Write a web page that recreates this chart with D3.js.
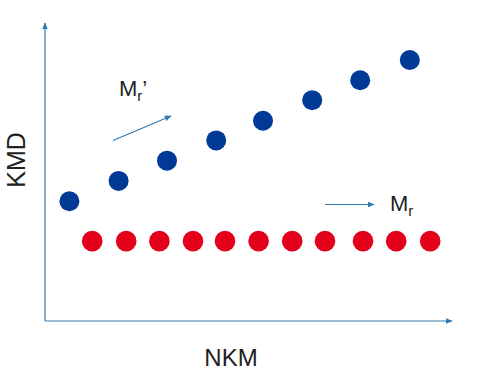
<!DOCTYPE html>
<html><head><meta charset="utf-8">
<script src="https://cdn.jsdelivr.net/npm/d3@7"></script>
<style>html,body{margin:0;padding:0;background:#fff;}svg{display:block;}</style>
</head><body>
<script>
// Data (arbitrary units)
const blueX = [0.61, 1.84, 3.05, 4.28, 5.45, 6.68, 7.88, 9.12];
const blueY = [4.02, 4.70, 5.38, 6.06, 6.72, 7.41, 8.08, 8.76];
const redX = [1.18, 2.03, 2.86, 3.70, 4.50, 5.34, 6.18, 7.00, 7.95, 8.78, 9.63];
const redY = [2.68, 2.68, 2.68, 2.68, 2.68, 2.68, 2.68, 2.68, 2.68, 2.68, 2.68];
const xLabel = "NKM";
const yLabel = "KMD";

const W = 480, H = 372;
const svg = d3.select("body").append("svg").attr("width", W).attr("height", H);
const x = d3.scaleLinear().domain([0, 10]).range([45, 445]);
const y = d3.scaleLinear().domain([0, 10]).range([321, 23]);
const axisColor = "#2f79b0";

const defs = svg.append("defs");
function marker(id, size) {
  defs.append("marker").attr("id", id).attr("viewBox", "0 0 10 10")
    .attr("refX", 9).attr("refY", 5).attr("markerWidth", size).attr("markerHeight", size)
    .attr("markerUnits", "userSpaceOnUse").attr("orient", "auto")
    .append("path").attr("d", "M0,1 L10,5 L0,9 Z").attr("fill", axisColor);
}
marker("ah", 7);

// axes
svg.append("line").attr("x1", x(0)).attr("y1", y(0)).attr("x2", x(0)).attr("y2", 23)
  .attr("stroke", axisColor).attr("stroke-width", 1.2).attr("marker-end", "url(#ah)");
svg.append("line").attr("x1", x(0)).attr("y1", y(0)).attr("x2", 452).attr("y2", y(0))
  .attr("stroke", axisColor).attr("stroke-width", 1.2).attr("marker-end", "url(#ah)");

// dots
svg.selectAll("circle.blue").data(blueX).join("circle").attr("class", "blue")
  .attr("cx", d => x(d)).attr("cy", (d, i) => y(blueY[i])).attr("r", 10).attr("fill", "#003a96");
svg.selectAll("circle.red").data(redX).join("circle").attr("class", "red")
  .attr("cx", d => x(d)).attr("cy", (d, i) => y(redY[i])).attr("r", 10.3).attr("fill", "#e3001b");

// annotation arrows
svg.append("line").attr("x1", 113).attr("y1", 140.5).attr("x2", 171).attr("y2", 116)
  .attr("stroke", axisColor).attr("stroke-width", 1.2).attr("marker-end", "url(#ah)");
svg.append("line").attr("x1", 325).attr("y1", 204.5).attr("x2", 374).attr("y2", 204.5)
  .attr("stroke", axisColor).attr("stroke-width", 1.2).attr("marker-end", "url(#ah)");

const font = "'Liberation Sans', Arial, sans-serif";
const t1 = svg.append("text").attr("x", 119).attr("y", 96).attr("font-family", font)
  .attr("font-size", 22).attr("fill", "#222");
t1.append("tspan").text("M");
t1.append("tspan").attr("font-size", 15).attr("dy", 5).text("r");
t1.append("tspan").attr("dy", -5).text("\u2019");

const t2 = svg.append("text").attr("x", 390).attr("y", 211).attr("font-family", font)
  .attr("font-size", 22).attr("fill", "#222");
t2.append("tspan").text("M");
t2.append("tspan").attr("font-size", 15).attr("dy", 5).text("r");

svg.append("text").attr("x", 231).attr("y", 366).attr("text-anchor", "middle")
  .attr("font-family", font).attr("font-size", 24).attr("fill", "#222").text(xLabel);
svg.append("text").attr("transform", "translate(25,160) rotate(-90)").attr("text-anchor", "middle")
  .attr("font-family", font).attr("font-size", 25).attr("fill", "#222").text(yLabel);
</script>
</body></html>
